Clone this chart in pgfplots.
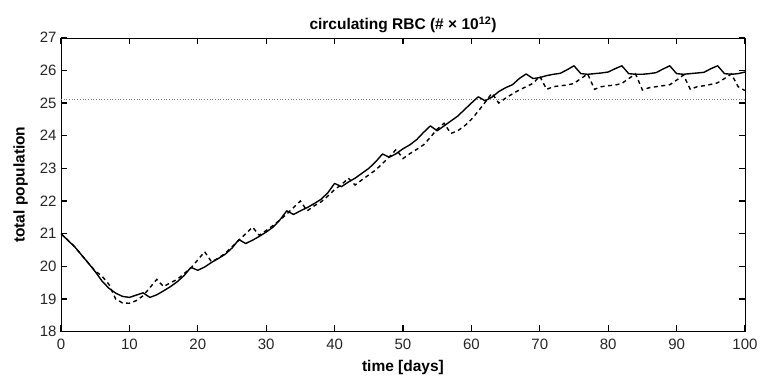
\documentclass[border=0pt]{standalone}
\usepackage{fontspec}
\setmainfont{Liberation Sans}
\usepackage{pgfplots}
\pgfplotsset{compat=1.18}
\begin{document}
\begin{tikzpicture}
\begin{axis}[
  at={(0,0)}, anchor=south west,
  scale only axis, width=684pt, height=294pt,
  xmin=0, xmax=100, ymin=18, ymax=27,
  xtick={0,10,...,100}, ytick={18,19,...,27},
  major tick length=6.5pt,
  every major tick/.append style={black, line width=1.2pt},
  tick label style={font=\fontsize{15}{17}\selectfont, black!85},
  xticklabel style={yshift=-4pt},
  yticklabel style={xshift=-1pt},
  title={\textbf{circulating RBC (\# × 10\textsuperscript{12})}},
  title style={font=\fontsize{15.5}{17}\selectfont, yshift=-5pt},
  xlabel={\textbf{time [days]}},
  ylabel={\textbf{total population}},
  label style={font=\fontsize{15.5}{17}\selectfont},
  xlabel style={yshift=-4pt},
  ylabel style={yshift=5pt},
  /pgf/number format/assume math mode=true,
]
\addplot[gray, dotted, line width=0.7pt] coordinates {(0,25.11) (100,25.11)};
\addplot[black, line width=1.4pt, line join=round] coordinates {
(0,21.0) (1,20.8) (2,20.6) (3,20.35) (4,20.1) (5,19.84) (6,19.55) (7,19.33) (8,19.18) (9,19.08)
(10,19.05) (11,19.12) (12,19.19) (13,19.05) (14,19.13) (15,19.25) (16,19.38) (17,19.53) (18,19.72) (19,19.97)
(20,19.88) (21,19.98) (22,20.12) (23,20.24) (24,20.37) (25,20.56) (26,20.82) (27,20.7) (28,20.8) (29,20.92)
(30,21.05) (31,21.2) (32,21.42) (33,21.70) (34,21.59) (35,21.7) (36,21.8) (37,21.92) (38,22.05) (39,22.25)
(40,22.54) (41,22.44) (42,22.58) (43,22.7) (44,22.85) (45,23.0) (46,23.2) (47,23.44) (48,23.34) (49,23.45)
(50,23.6) (51,23.72) (52,23.88) (53,24.1) (54,24.3) (55,24.15) (56,24.3) (57,24.45) (58,24.6) (59,24.8)
(60,25.0) (61,25.19) (62,25.07) (63,25.18) (64,25.35) (65,25.47) (66,25.56) (67,25.75) (68,25.89) (69,25.75)
(70,25.78) (71,25.84) (72,25.88) (73,25.91) (74,26.02) (75,26.14) (76,25.9) (77,25.88) (78,25.9) (79,25.92)
(80,25.95) (81,26.05) (82,26.14) (83,25.9) (84,25.88) (85,25.88) (86,25.9) (87,25.93) (88,26.04) (89,26.14)
(90,25.9) (91,25.88) (92,25.9) (93,25.92) (94,25.94) (95,26.05) (96,26.14) (97,25.9) (98,25.88) (99,25.9) (100,25.95)
};
\addplot[black, line width=1.4pt, dash pattern=on 4pt off 3.5pt] coordinates {
(0,21.0) (1,20.8) (2,20.6) (3,20.35) (4,20.1) (5,19.86) (6,19.7) (7,19.45) (8,19.0) (9,18.88)
(10,18.87) (11,18.95) (12,19.1) (13,19.35) (14,19.6) (15,19.38) (16,19.5) (17,19.6) (18,19.78) (19,19.95)
(20,20.2) (21,20.45) (22,20.14) (23,20.25) (24,20.4) (25,20.6) (26,20.8) (27,21.0) (28,21.2) (29,20.95)
(30,21.1) (31,21.25) (32,21.42) (33,21.6) (34,21.8) (35,22.0) (36,21.7) (37,21.85) (38,21.97) (39,22.15)
(40,22.35) (41,22.5) (42,22.7) (43,22.49) (44,22.65) (45,22.8) (46,22.95) (47,23.15) (48,23.35) (49,23.58)
(50,23.3) (51,23.45) (52,23.58) (53,23.72) (54,23.95) (55,24.2) (56,24.38) (57,24.07) (58,24.15) (59,24.3)
(60,24.5) (61,24.75) (62,25.02) (63,25.3) (64,25.0) (65,25.15) (66,25.28) (67,25.4) (68,25.5) (69,25.6)
(70,25.82) (71,25.42) (72,25.5) (73,25.53) (74,25.55) (75,25.6) (76,25.75) (77,25.89) (78,25.42) (79,25.5)
(80,25.53) (81,25.55) (82,25.6) (83,25.75) (84,25.89) (85,25.4) (86,25.47) (87,25.5) (88,25.53) (89,25.56)
(90,25.7) (91,25.86) (92,25.42) (93,25.5) (94,25.53) (95,25.57) (96,25.62) (97,25.75) (98,25.89) (99,25.5) (100,25.38)
};
\end{axis}
\pgfresetboundingbox
\path[use as bounding box] (-61pt,-48.3pt) rectangle (700pt,331.7pt);
\end{tikzpicture}
\end{document}
